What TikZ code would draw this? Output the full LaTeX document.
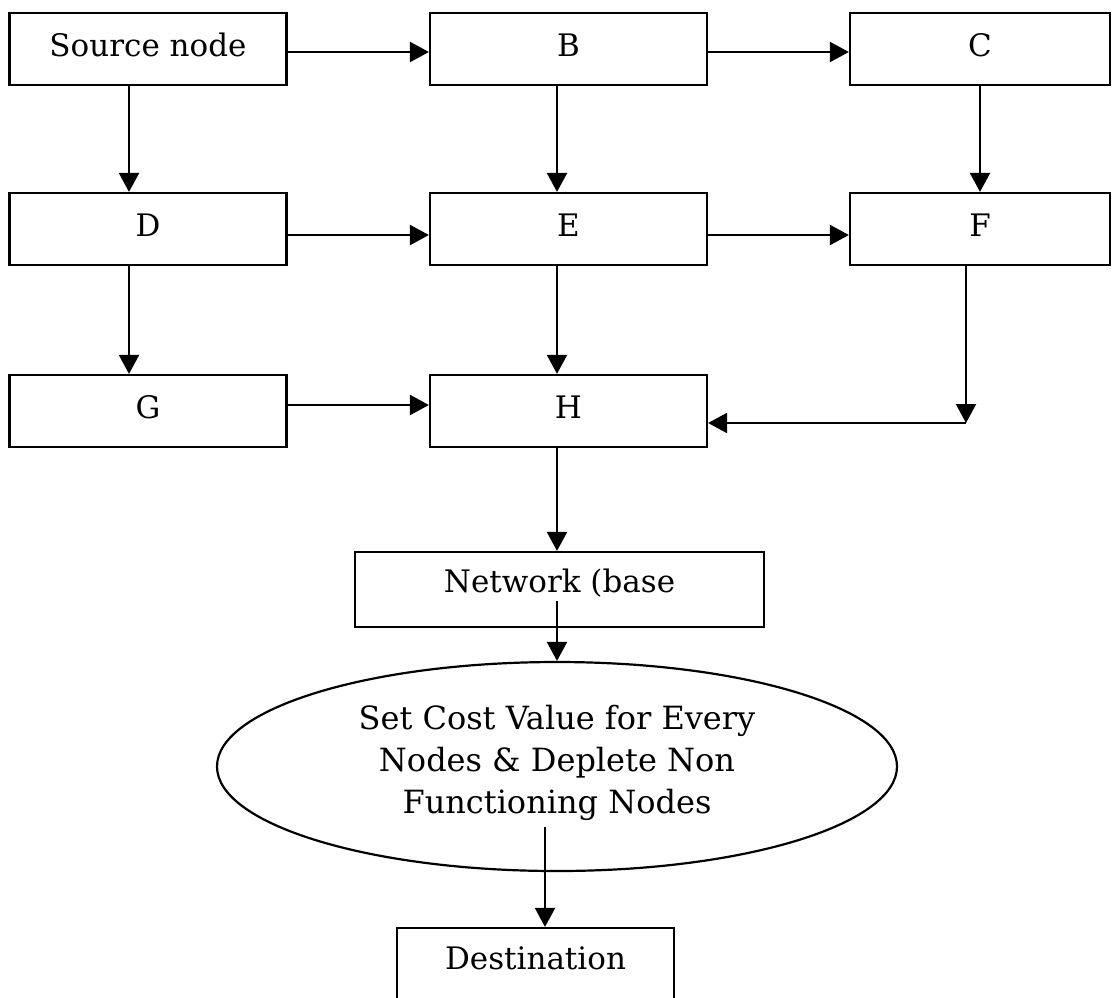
\documentclass[tikz,border=0pt]{standalone}
\usepackage{fontspec}
\setmainfont{DejaVu Serif}
\usetikzlibrary{arrows.meta,shapes.geometric}
\begin{document}
\begin{tikzpicture}[x=1pt,y=-1pt,
  box/.style={draw, line width=2.2pt, rectangle, inner sep=0pt, minimum width=277pt, minimum height=72pt, text height=23pt, text depth=8pt, font=\fontsize{31}{37}\selectfont},
  ell/.style={draw, line width=2.2pt, ellipse, inner sep=0pt, minimum width=680pt, minimum height=209pt, font=\fontsize{32}{42}\selectfont},
  conn/.style={line width=2.2pt, -{Triangle[length=19pt,width=20pt]}}]
\useasboundingbox (0,0) rectangle (1118,997);
\clip (0,0) rectangle (1118,997);
\node[box] (src) at (148,49) {Source node};
\node[box] (B) at (568.5,49) {B};
\node[box, minimum width=260pt] (C) at (980,49) {C};
\node[box] (D) at (148,229) {D};
\node[box] (E) at (568.5,229) {E};
\node[box, minimum width=260pt] (F) at (980,229) {F};
\node[box] (G) at (148,411) {G};
\node[box] (H) at (568.5,411) {H};
\node[box, minimum width=409pt, minimum height=75pt, text depth=18pt] (net) at (559.5,589.5) {Network (base};
\node[ell] (ellN) at (557,766.5) {\raisebox{-2.5pt}[0pt][0pt]{\begin{tabular}{@{}c@{}}Set Cost Value for Every\\Nodes \& Deplete Non\\Functioning Nodes\end{tabular}}};
\node[box, minimum height=100pt, text depth=40pt] (dest) at (535.5,978) {Destination};
\coordinate (fc) at (966,423);
\coordinate (n1) at (557,601);
\coordinate (e1) at (545,827);
\draw[conn] ([yshift=-3pt]src.east) -- ([yshift=-3pt]B.west);
\draw[conn] ([yshift=-3pt]B.east) -- ([yshift=-3pt]C.west);
\draw[conn] ([xshift=-19pt]src.south) -- ([xshift=-19pt]D.north);
\draw[conn] ([xshift=-11.5pt]B.south) -- ([xshift=-11.5pt]E.north);
\draw[conn] (C.south) -- (F.north);
\draw[conn] ([yshift=-6pt]D.east) -- ([yshift=-6pt]E.west);
\draw[conn] ([yshift=-6pt]E.east) -- ([yshift=-6pt]F.west);
\draw[conn] ([xshift=-19pt]D.south) -- ([xshift=-19pt]G.north);
\draw[conn] ([xshift=-11.5pt]E.south) -- ([xshift=-11.5pt]H.north);
\draw[conn] ([yshift=6pt]G.east) -- ([yshift=6pt]H.west);
\draw[conn] ([xshift=-14pt]F.south) -- (fc);
\draw[conn] (fc) -- (fc -| H.east);
\draw[conn] ([xshift=-11.5pt]H.south) -- ([xshift=-2.5pt]net.north);
\draw[conn] (n1) -- (n1 |- ellN.north);
\draw[conn] (e1) -- (e1 |- dest.north);
\end{tikzpicture}
\end{document}
